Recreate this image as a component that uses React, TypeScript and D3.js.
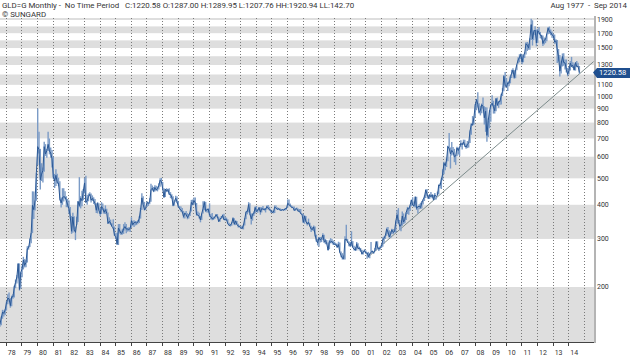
import React from "react";
import * as d3 from "d3";

// Monthly data, Aug 1977 .. Sep 2014
const startYear = 1977;
const startMonth = 7; // August (0-based)

const closes: number[] = [
  146, 154, 162, 160, 165,
  175, 182, 181, 171, 184, 184, 200, 208, 218, 243, 196, 226,
  233, 251, 240, 246, 276, 278, 297, 316, 398, 384, 416, 525,
  653, 637, 494, 518, 535, 653, 614, 631, 666, 629, 619, 589,
  506, 489, 513, 482, 480, 422, 406, 425, 428, 427, 414, 400,
  387, 362, 320, 361, 325, 317, 342, 411, 397, 423, 414, 448,
  481, 408, 414, 429, 437, 416, 422, 414, 405, 382, 405, 382,
  370, 394, 388, 375, 384, 373, 342, 348, 343, 333, 329, 309,
  306, 287, 329, 321, 314, 317, 327, 333, 326, 326, 325, 327,
  350, 338, 344, 345, 343, 346, 357, 384, 424, 401, 383, 391,
  408, 405, 409, 454, 460, 448, 463, 453, 459, 469, 492, 486,
  458, 426, 457, 449, 455, 437, 436, 427, 397, 412, 423, 410,
  394, 387, 383, 377, 362, 373, 368, 359, 366, 375, 408, 401,
  415, 407, 368, 367, 363, 352, 372, 387, 408, 380, 384, 386,
  366, 362, 355, 357, 360, 368, 362, 347, 354, 359, 366, 353,
  354, 353, 341, 336, 337, 343, 357, 340, 349, 339, 334, 333,
  330, 327, 337, 355, 377, 378, 401, 371, 355, 369, 371, 391,
  378, 381, 391, 376, 387, 386, 384, 385, 394, 389, 383, 383,
  375, 376, 392, 389, 385, 387, 383, 382, 384, 382, 387, 387,
  405, 401, 396, 392, 391, 382, 385, 387, 379, 379, 371, 369,
  345, 364, 348, 340, 345, 334, 326, 325, 332, 311, 296, 290,
  303, 297, 301, 310, 293, 296, 288, 273, 294, 292, 294, 288,
  287, 287, 280, 286, 268, 261, 255, 254, 299, 299, 292, 288,
  283, 293, 279, 275, 273, 288, 276, 278, 274, 264, 269, 272,
  266, 267, 258, 264, 268, 271, 266, 273, 293, 279, 275, 279,
  282, 297, 302, 309, 326, 318, 305, 313, 324, 317, 319, 348,
  368, 347, 334, 336, 364, 346, 354, 375, 388, 386, 398, 417,
  399, 396, 427, 388, 394, 395, 391, 407, 418, 428, 453, 438,
  422, 435, 428, 435, 417, 435, 429, 433, 473, 470, 495, 518,
  568, 556, 583, 654, 643, 614, 633, 623, 599, 604, 646, 632,
  650, 672, 663, 680, 659, 650, 666, 673, 743, 789, 783, 834,
  923, 971, 933, 871, 887, 930, 918, 833, 880, 718, 815, 882,
  928, 942, 916, 884, 980, 926, 954, 955, 1008, 1040, 1182, 1096,
  1081, 1118, 1115, 1179, 1213, 1245, 1169, 1248, 1307, 1357, 1386, 1421,
  1332, 1409, 1439, 1556, 1536, 1500, 1628, 1828, 1620, 1722, 1746, 1566,
  1737, 1710, 1669, 1664, 1558, 1604, 1614, 1691, 1773, 1719, 1713, 1675,
  1663, 1578, 1596, 1476, 1393, 1234, 1312, 1396, 1327, 1323, 1250, 1202,
  1240, 1321, 1284, 1296, 1246, 1327, 1282, 1287, 1220.58,
];

const highs: number[] = [
  147, 156, 165, 164, 166,
  177, 188, 191, 182, 186, 188, 202, 213, 221, 245, 244, 227,
  240, 258, 253, 251, 282, 283, 301, 316, 448, 447, 416, 525,
  900, 740, 641, 568, 548, 680, 667, 640, 740, 700, 648, 635,
  600, 519, 540, 520, 503, 488, 425, 460, 460, 448, 430, 420,
  415, 393, 364, 374, 363, 333, 362, 413, 505, 430, 450, 457,
  502, 511, 434, 440, 445, 440, 433, 426, 420, 405, 409, 405,
  389, 409, 404, 388, 398, 387, 375, 360, 353, 342, 354, 333,
  315, 316, 340, 340, 322, 327, 340, 345, 340, 330, 331, 331,
  360, 350, 351, 349, 348, 352, 363, 389, 441, 430, 410, 392,
  412, 410, 423, 478, 471, 465, 472, 470, 467, 480, 500, 502,
  485, 460, 457, 460, 457, 460, 445, 437, 430, 412, 432, 429,
  413, 396, 394, 389, 380, 375, 380, 373, 370, 377, 417, 418,
  425, 425, 406, 378, 374, 364, 373, 412, 413, 410, 387, 388,
  405, 370, 373, 362, 363, 370, 370, 362, 357, 364, 369, 371,
  362, 359, 354, 344, 339, 345, 360, 357, 351, 349, 341, 336,
  334, 335, 338, 358, 378, 382, 409, 405, 372, 373, 378, 394,
  396, 386, 392, 392, 392, 396, 389, 389, 398, 399, 393, 384,
  381, 380, 398, 398, 392, 390, 389, 385, 386, 386, 389, 390,
  418, 418, 404, 398, 394, 394, 389, 391, 388, 386, 386, 372,
  371, 366, 364, 347, 356, 344, 335, 332, 336, 333, 311, 300,
  305, 305, 303, 315, 311, 300, 297, 291, 298, 302, 300, 296,
  293, 289, 288, 293, 291, 270, 266, 261, 307, 338, 300, 294,
  292, 320, 295, 283, 280, 292, 289, 281, 278, 274, 272, 275,
  272, 267, 269, 266, 292, 272, 270, 278, 294, 294, 280, 280,
  286, 304, 306, 310, 330, 332, 323, 320, 327, 326, 320, 350,
  383, 389, 352, 340, 378, 372, 361, 376, 393, 391, 400, 417,
  426, 411, 430, 428, 395, 402, 407, 413, 419, 432, 456, 457,
  433, 438, 446, 437, 435, 442, 430, 447, 474, 480, 500, 540,
  575, 572, 590, 658, 732, 649, 679, 651, 641, 607, 652, 649,
  650, 690, 674, 693, 692, 671, 685, 675, 748, 795, 845, 840,
  936, 976, 1033, 942, 922, 940, 988, 918, 911, 909, 829, 888,
  931, 1007, 962, 927, 983, 988, 958, 966, 1020, 1070, 1196, 1226,
  1163, 1128, 1136, 1182, 1249, 1265, 1245, 1250, 1308, 1388, 1424, 1431,
  1424, 1411, 1447, 1575, 1577, 1555, 1632, 1920, 1895, 1746, 1804, 1753,
  1764, 1792, 1718, 1678, 1668, 1641, 1628, 1694, 1791, 1798, 1754, 1726,
  1694, 1681, 1617, 1605, 1488, 1415, 1348, 1433, 1434, 1361, 1362, 1267,
  1280, 1345, 1392, 1331, 1315, 1328, 1345, 1324, 1290,
];

const lows: number[] = [
  143, 145, 153, 156, 158,
  164, 173, 177, 168, 170, 181, 183, 198, 206, 215, 194, 197,
  217, 232, 236, 236, 246, 274, 280, 289, 315, 355, 381, 414,
  560, 616, 455, 489, 483, 528, 604, 595, 630, 612, 595, 548,
  499, 461, 469, 478, 468, 415, 391, 400, 411, 420, 392, 391,
  371, 356, 313, 316, 320, 297, 338, 346, 392, 388, 395, 416,
  441, 408, 400, 412, 431, 408, 413, 403, 400, 373, 372, 381,
  364, 370, 382, 370, 370, 373, 340, 341, 337, 333, 326, 307,
  300, 285, 285, 314, 310, 311, 313, 322, 315, 319, 320, 318,
  329, 335, 332, 336, 337, 341, 343, 356, 383, 400, 381, 383,
  393, 396, 402, 410, 451, 445, 447, 450, 448, 455, 466, 482,
  455, 425, 427, 445, 446, 435, 423, 421, 395, 397, 410, 405,
  391, 384, 377, 375, 357, 356, 366, 354, 356, 364, 378, 398,
  400, 406, 365, 365, 356, 345, 352, 372, 382, 376, 375, 375,
  362, 353, 351, 352, 355, 360, 359, 347, 347, 355, 357, 352,
  350, 350, 340, 336, 333, 335, 343, 337, 337, 339, 330, 330,
  326, 326, 325, 336, 354, 369, 375, 366, 339, 350, 364, 372,
  376, 374, 381, 368, 375, 383, 381, 375, 384, 388, 381, 374,
  373, 372, 373, 389, 383, 383, 381, 380, 381, 381, 381, 384,
  390, 397, 393, 389, 390, 380, 380, 385, 378, 379, 370, 367,
  343, 341, 346, 336, 339, 333, 318, 322, 320, 306, 293, 284,
  281, 291, 292, 297, 290, 287, 287, 272, 275, 289, 289, 285,
  285, 283, 278, 280, 267, 257, 252, 252, 252, 296, 290, 282,
  280, 282, 279, 272, 271, 272, 278, 272, 269, 263, 263, 268,
  265, 254, 256, 255, 264, 267, 265, 270, 272, 275, 271, 274,
  278, 281, 288, 300, 308, 313, 303, 302, 313, 312, 317, 316,
  341, 347, 324, 320, 335, 340, 342, 352, 370, 368, 380, 395,
  398, 392, 391, 383, 372, 385, 386, 388, 401, 413, 424, 431,
  420, 420, 425, 423, 415, 417, 418, 433, 437, 460, 457, 492,
  518, 535, 550, 578, 640, 543, 606, 611, 573, 560, 602, 611,
  603, 650, 637, 664, 651, 642, 645, 648, 674, 722, 780, 785,
  837, 888, 909, 864, 850, 865, 900, 787, 740, 681, 708, 763,
  805, 917, 863, 864, 880, 920, 906, 930, 931, 1001, 1043, 1076,
  1075, 1045, 1087, 1114, 1165, 1204, 1157, 1163, 1243, 1316, 1330, 1367,
  1308, 1330, 1380, 1420, 1462, 1478, 1479, 1605, 1532, 1603, 1674, 1522,
  1564, 1689, 1628, 1612, 1527, 1547, 1563, 1588, 1685, 1692, 1672, 1637,
  1627, 1555, 1563, 1321, 1339, 1180, 1211, 1284, 1293, 1251, 1221, 1182,
  1200, 1240, 1277, 1268, 1240, 1240, 1282, 1273, 1208,
];

const yearTicks: number[] = [
  1978, 1979, 1980, 1981, 1982, 1983, 1984, 1985, 1986, 1987, 1988, 1989,
  1990, 1991, 1992, 1993, 1994, 1995, 1996, 1997, 1998, 1999, 2000, 2001,
  2002, 2003, 2004, 2005, 2006, 2007, 2008, 2009, 2010, 2011, 2012, 2013, 2014,
];
const yearLabels: string[] = [
  "78", "79", "80", "81", "82", "83", "84", "85", "86", "87", "88", "89",
  "90", "91", "92", "93", "94", "95", "96", "97", "98", "99", "00", "01",
  "02", "03", "04", "05", "06", "07", "08", "09", "10", "11", "12", "13", "14",
];
const gridYears: number[] = [...yearTicks, 2015];

// 1200 is hidden behind the last-price tag in the reference
const priceLabels: number[] = [200, 300, 400, 500, 600, 700, 800, 900, 1000, 1100, 1300, 1500, 1700, 1900];
const bands: [number, number][] = [
  [100, 200], [300, 400], [500, 600], [700, 800], [900, 1000],
  [1100, 1200], [1300, 1400], [1500, 1600], [1700, 1800], [1900, 2000],
];
const trendLine: { t: number; v: number }[] = [
  { t: 2001.2, v: 258 },
  { t: 2015.62, v: 1338 },
];

const headerLeft = "GLD=G Monthly -  No Time Period   C:1220.58 O:1287.00 H:1289.95 L:1207.76 HH:1920.94 LL:142.70";
const headerSub = "\u00A9 SUNGARD";
const headerRight = "Aug 1977  -  Sep 2014";
const lastClose = 1220.58;

const W = 630;
const H = 357;
const plotLeft = 0;
const plotRight = 594;
const plotTop = 18;
const plotBottom = 342;

const x = d3.scaleLinear().domain([1978, 2014]).range([5.8, 568.3]);
const y = d3.scaleLog().domain([200, 1900]).range([287, 20]);

const monthTime = (i: number) => startYear + (startMonth + i + 0.5) / 12;

const FONT = "Roboto, 'DejaVu Sans', sans-serif";

export default function App() {
  const closeLine = d3
    .line<number>()
    .x((_, i) => x(monthTime(i)))
    .y((d) => y(d))(closes) as string;

  const trendPath = d3
    .line<{ t: number; v: number }>()
    .x((d) => x(d.t))
    .y((d) => y(d.v))(trendLine) as string;

  const tagY = y(lastClose);

  return (
    <svg
      width={W}
      height={H}
      style={{ position: "fixed", left: 0, top: 0, background: "#fff" }}
      fontFamily={FONT}
    >
      <defs>
        <clipPath id="plot">
          <rect x={plotLeft} y={plotTop} width={plotRight - plotLeft} height={plotBottom - plotTop} />
        </clipPath>
      </defs>
      <rect x={0} y={0} width={W} height={H} fill="#fff" />
      <g clipPath="url(#plot)">
        {bands.map(([lo, hi], i) => (
          <rect
            key={i}
            x={plotLeft}
            width={plotRight - plotLeft}
            y={y(hi)}
            height={y(lo) - y(hi)}
            fill="#dedede"
          />
        ))}
        {gridYears.map((yr) => (
          <line
            key={yr}
            x1={Math.round(x(yr)) + 0.5}
            x2={Math.round(x(yr)) + 0.5}
            y1={plotTop}
            y2={plotBottom}
            stroke="#7a7a7a"
            strokeWidth={1}
            strokeDasharray="1,2"
          />
        ))}
        <path d={trendPath} fill="none" stroke="#7d8c8c" strokeWidth={1} />
        {closes.map((_, i) => (
          <line
            key={i}
            x1={x(monthTime(i))}
            x2={x(monthTime(i))}
            y1={y(lows[i])}
            y2={y(highs[i])}
            stroke="#7b9bc6"
            strokeWidth={1.4}
          />
        ))}
        <path d={closeLine} fill="none" stroke="#2a5896" strokeWidth={1} />
      </g>
      {/* bottom axis */}
      <line x1={plotLeft} x2={plotRight} y1={plotBottom + 0.5} y2={plotBottom + 0.5} stroke="#444" strokeWidth={1} />
      {yearTicks.map((yr, i) => (
        <g key={yr}>
          <line
            x1={Math.round(x(yr)) + 0.5}
            x2={Math.round(x(yr)) + 0.5}
            y1={plotBottom}
            y2={plotBottom + 4}
            stroke="#444"
          />
          <text x={x(yr) + 2} y={355} fontSize={7} fill="#333">
            {yearLabels[i]}
          </text>
        </g>
      ))}
      {/* right axis */}
      <line x1={plotRight + 1} x2={plotRight + 1} y1={plotTop - 2} y2={plotBottom + 1} stroke="#b4b4b4" strokeWidth={2} />
      {priceLabels.map((p) => (
        <text key={p} x={plotRight + 3} y={y(p)} dy="0.35em" fontSize={7} fill="#333">
          {p}
        </text>
      ))}
      {/* last price tag */}
      <path
        d={`M${plotRight - 1},${tagY} L${plotRight + 3},${tagY - 4.5} L${W},${tagY - 4.5} L${W},${tagY + 5.5} L${plotRight + 3},${tagY + 5.5} Z`}
        fill="#1f4f8f"
      />
      <text x={plotRight + 5} y={tagY} dy="0.38em" fontSize={7.5} fill="#fff">
        {lastClose.toFixed(2)}
      </text>
      {/* header */}
      <text x={2} y={8} fontSize={7.9} fill="#333" style={{ whiteSpace: "pre" }}>
        {headerLeft}
      </text>
      <text x={2} y={16.5} fontSize={7.9} fill="#333">
        {headerSub}
      </text>
      <text x={627} y={8} fontSize={7.9} fill="#333" textAnchor="end" style={{ whiteSpace: "pre" }}>
        {headerRight}
      </text>
    </svg>
  );
}
